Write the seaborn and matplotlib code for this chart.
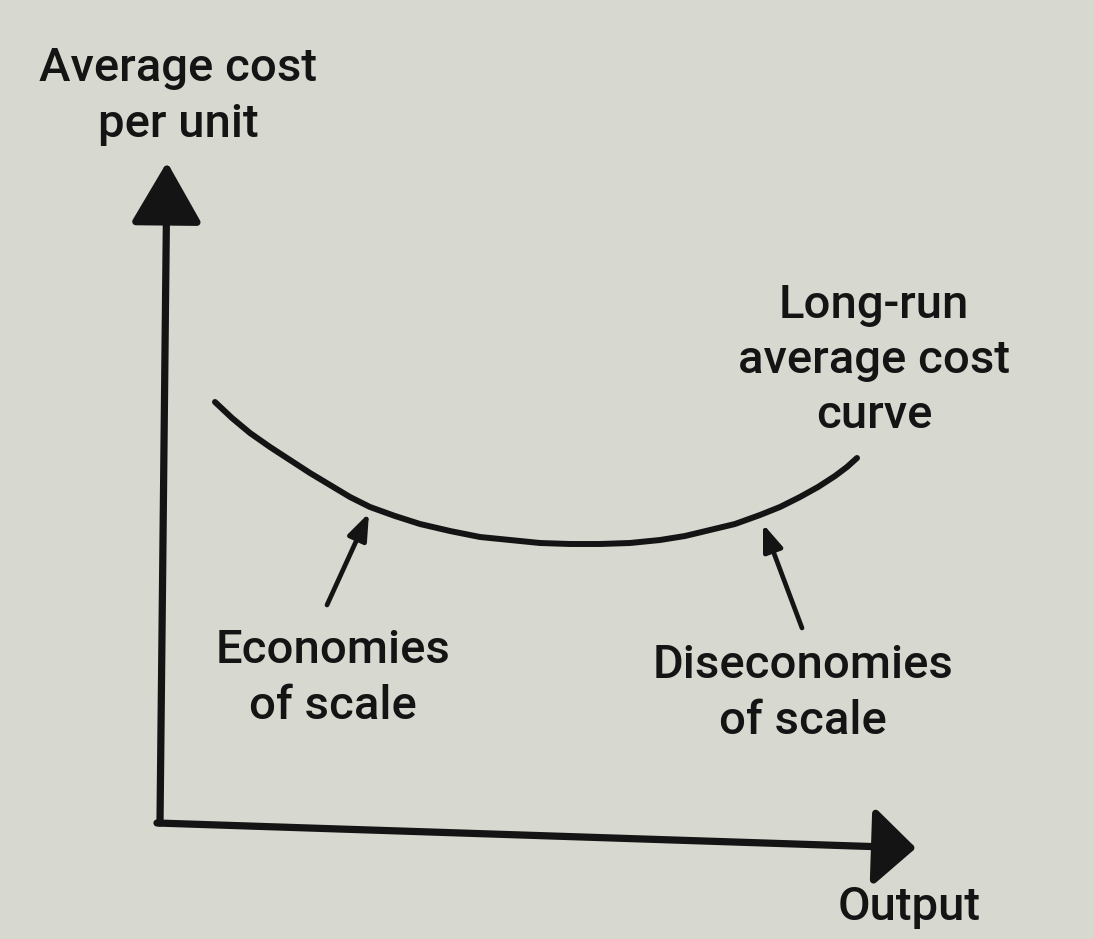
import numpy as np
import pandas as pd
import seaborn as sns
import matplotlib.pyplot as plt

# curve (pixel space of the page, y grows downwards)
curve_x = [215, 232, 250, 270, 290, 310, 330, 350, 370, 395, 420, 450, 480, 510,
           540, 570, 600, 630, 660, 685, 710, 735, 760, 780, 800, 818, 835, 847, 857]
curve_y = [402, 418, 433, 447, 460, 473, 485, 497, 507, 516, 524, 531, 537, 540,
           543, 544, 544, 543, 540, 536, 530, 524, 515, 507, 497, 487, 476, 467, 458]

# axes: origin, y-axis top, x-axis end
origin = (160, 823)
y_axis_tip = (167, 162)
x_axis_tip = (916, 848)

# pointer arrows (tail -> head)
econ_arrow = [(327, 605), (369, 513)]
disecon_arrow = [(802, 628), (763, 524)]

labels = ['Average cost\nper unit', 'Long-run\naverage cost\ncurve',
          'Economies\nof scale', 'Diseconomies\nof scale', 'Output']
label_xy = [(178, 96), (874, 360), (333, 678), (803, 693), (909, 907)]

sns.set_theme(style='white')
plt.rcParams['font.family'] = ['Roboto', 'DejaVu Sans']

bg = '#d7d8d0'
ink = '#141414'

fig = plt.figure(figsize=(10.94, 9.39), dpi=100, facecolor=bg)
ax = fig.add_axes([0, 0, 1, 1], facecolor=bg)
ax.set_xlim(0, 1094)
ax.set_ylim(939, 0)
ax.axis('off')

df = pd.DataFrame({'x': curve_x, 'y': curve_y})
sns.lineplot(data=df, x='x', y='y', sort=False, color=ink, linewidth=4.3, ax=ax)
ax.lines[-1].set_solid_capstyle('round')
ax.lines[-1].set_solid_joinstyle('round')

# axes with big filled heads
ax.annotate('', xy=y_axis_tip, xytext=origin,
            arrowprops=dict(arrowstyle='-|>,head_length=38,head_width=22',
                            mutation_scale=1, lw=5.2, color=ink,
                            shrinkA=0, shrinkB=0))
ax.annotate('', xy=x_axis_tip, xytext=(origin[0] - 3, origin[1]),
            arrowprops=dict(arrowstyle='-|>,head_length=26,head_width=24',
                            mutation_scale=1, lw=5.2, color=ink,
                            shrinkA=0, shrinkB=0))

for tail, head in [econ_arrow, disecon_arrow]:
    ax.annotate('', xy=head, xytext=tail,
                arrowprops=dict(arrowstyle='-|>,head_length=16,head_width=6',
                                mutation_scale=1, lw=3.4, color=ink,
                                shrinkA=0, shrinkB=0))

for txt, (x, y) in zip(labels, label_xy):
    ax.text(x, y, txt, ha='center', va='center', fontsize=34,
            fontweight='medium', color=ink, linespacing=1.32)

plt.savefig('out.png', dpi=100, facecolor=bg)
